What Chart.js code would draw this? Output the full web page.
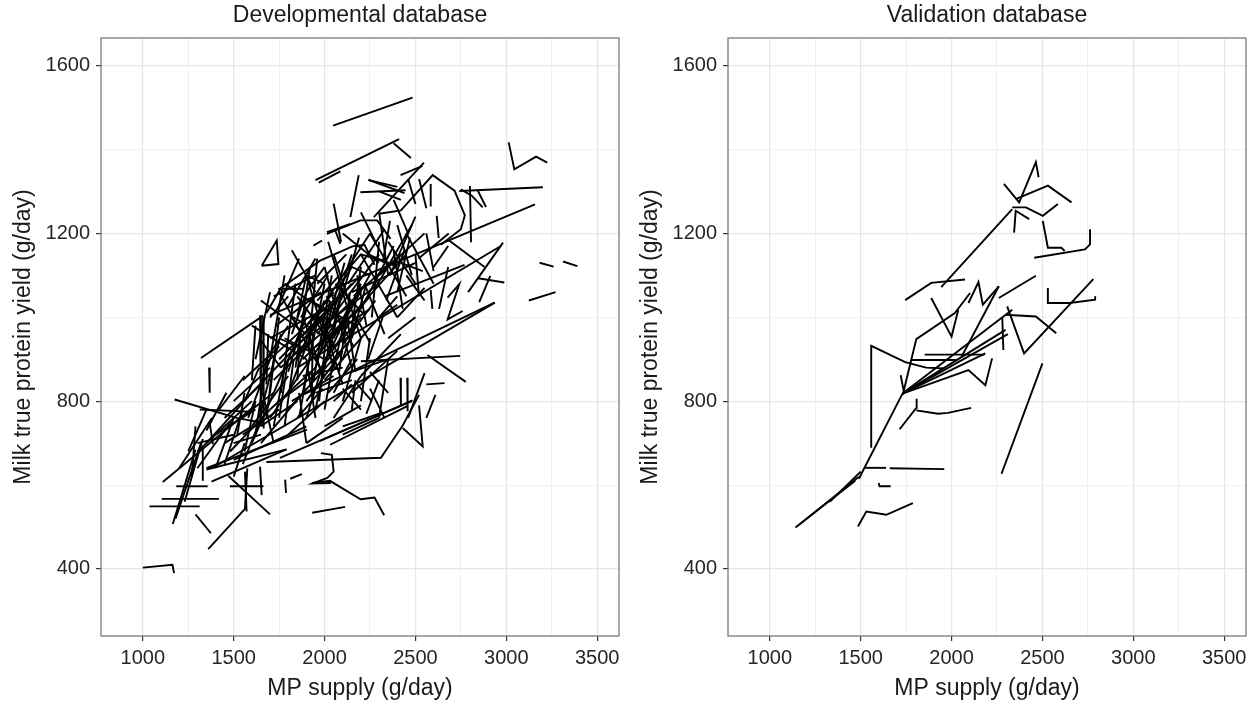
<!DOCTYPE html>
<html>
<head>
<meta charset="utf-8">
<script src="https://cdn.jsdelivr.net/npm/chart.js@4.4.0/dist/chart.umd.min.js"></script>
<style>
  html, body { margin: 0; padding: 0; background: #fff; }
  #wrap { position: relative; width: 1254px; height: 704px; }
  .panel { position: absolute; top: 0; width: 627px; height: 704px; }
</style>
</head>
<body>
<div id="wrap">
  <div class="panel" style="left:0"><canvas id="devChart" width="627" height="704"></canvas></div>
  <div class="panel" style="left:627px"><canvas id="valChart" width="627" height="704"></canvas></div>
</div>
<script>
// axis setup
const xTicks = [1000, 1500, 2000, 2500, 3000, 3500];
const yTicks = [400, 800, 1200, 1600];
const xRange = [770, 3620];
const yRange = [240, 1666];

const panelTitles = ['Developmental database', 'Validation database'];
const xTitle = 'MP supply (g/day)';
const yTitle = 'Milk true protein yield (g/day)';

// each study = flat list x1,y1,x2,y2,... (MP supply, protein yield)
// --- developmental database ---
const devOutliers = [
  [1000,403, 1163,410, 1172,390],
  [2047,1457, 2484,1524],
  [1950,1327, 2410,1425],
  [2380,1415, 2475,1380],
  [1968,1321, 2087,1348],
  [3013,1417, 3044,1353, 3164,1383, 3225,1369],
  [3183,1130, 3260,1121],
  [3312,1133, 3391,1122],
  [3124,1040, 3271,1060],
  [1654,1123, 1737,1183, 1746,1127, 1654,1123],
  [1939,1171, 1986,1183],
  [1365,880, 1368,820],
  [1932,534, 2113,548]
];

const devUpper = [
  [2741,1301, 3201,1310],
  [2800,1313, 2806,1179],
  [2842,1303, 2888,1263],
  [2750,1305, 2810,1290, 2870,1262],
  [2300,1247, 2420,1255, 2595,1339, 2715,1302, 2772,1243, 2750,1210, 2640,1173],
  [2790,1060, 2982,1178],
  [2845,1093, 2989,1083],
  [2912,1099, 2851,1036],
  [2680,1185, 2880,1120],
  [2677,1047, 2741,1079, 2677,995, 2760,1015],
  [2584,1065, 2593,1020],
  [2680,1120, 2630,1020],
  [2050,1271, 2091,1179],
  [2013,1203, 2142,1223],
  [2059,1207, 2087,1175],
  [2188,1339, 2142,1239],
  [2197,1298, 2446,1303],
  [2271,1239, 2547,1369],
  [2243,1327, 2400,1311],
  [2013,1199, 2197,1231, 2290,1231, 2363,1187],
  [2241,1328, 2440,1296],
  [2418,1339, 2539,1361],
  [2584,1318, 2584,1264],
  [2617,1242, 2628,1189],
  [2517,1140, 2683,1200],
  [2200,1250, 2280,1180],
  [2380,1280, 2460,1200],
  [2460,1330, 2500,1270],
  [2520,1330, 2560,1260],
  [2300,1300, 2420,1280],
  [2560,1200, 2600,1110],
  [2600,1120, 2680,1170],
  [1745,1068, 1885,1068],
  [1680,1010, 1760,1070, 1976,1135, 2153,1169, 2220,1173, 2275,1125]
];

const devLong = [
  [1320,903, 1663,1004],
  [1700,1005, 3158,1269],
  [1850,880, 2970,1170],
  [1380,640, 2937,1035],
  [1880,815, 2935,1035],
  [2200,895, 2746,908],
  [2566,910, 2777,846],
  [2330,1050, 2770,1125],
  [1110,607, 1620,790],
  [1755,665, 2480,800],
  [1175,804, 1516,760, 1663,748],
  [1313,780, 1580,775],
  [1680,655, 2310,665, 2430,742, 2520,815]
];

const devCore = [
  [1600,820, 2000,1000], [1650,880, 2100,1060], [1700,760, 2050,980],
  [1750,900, 2200,1100], [1800,780, 2150,950], [1820,1000, 2000,860],
  [1850,1050, 2100,900], [1900,1100, 2050,880], [1880,820, 2000,1080],
  [1950,780, 2080,1040], [2000,1120, 2150,880], [2050,1150, 2200,950],
  [1900,950, 2300,1080], [1700,950, 2000,1020], [1600,980, 1900,900],
  [1650,1040, 1900,960], [1720,1050, 1950,1100], [1780,1080, 2050,1000],
  [1950,1000, 2250,1200], [2000,850, 2400,1050], [2100,980, 2450,1150],
  [2150,1060, 2500,1130], [2200,1150, 2400,1000], [2250,1200, 2450,1050],
  [2300,1100, 2550,1200], [2350,1180, 2500,1080], [2400,1220, 2480,1100],
  [2300,1250, 2350,1100], [2450,1200, 2600,1080], [2100,1200, 2300,1130],
  [2020,1180, 2120,1030], [1980,940, 2160,1010, 2250,940],
  [1800,870, 1900,1020], [1700,820, 1750,1000], [1750,760, 1800,900],
  [1850,760, 1990,830], [1900,900, 1950,760], [2050,820, 2150,900],
  [2100,800, 2200,950], [2150,870, 2350,900], [2200,800, 2250,950],
  [2250,870, 2350,820], [2300,760, 2350,900], [1550,850, 1750,930],
  [1500,800, 1700,880], [1450,760, 1650,840], [1400,720, 1620,780],
  [1350,700, 1600,820], [1600,700, 1700,800], [1550,650, 1650,760],
  [1500,700, 1650,720], [1700,700, 1900,740], [1650,740, 1850,800],
  [1800,720, 2000,800], [1900,700, 2100,760], [2000,740, 2200,790],
  [2100,740, 2300,770], [1950,880, 2150,1150], [2000,900, 2100,950, 2200,1000],
  [1850,1000, 1900,1100, 2000,1080], [2050,1050, 2150,1120, 2250,1100],
  [1700,1000, 1800,1050], [1750,950, 1850,930], [2100,1100, 2200,1150, 2350,1130],
  [2300,1000, 2400,1030], [2350,950, 2500,1000], [2400,1000, 2550,1070],
  [2450,1100, 2550,1040], [2500,1150, 2520,1050], [2150,1000, 2250,1050],
  [1880,900, 2020,960], [1920,850, 2060,920], [1960,960, 2060,1010],
  [2060,930, 2140,990], [1840,940, 1980,1000], [1760,880, 1900,940],
  [1960,1040, 2080,1100], [2080,1010, 2200,1060], [1900,1060, 2000,1120],
  [1680,900, 1800,980], [1740,1020, 1860,1140], [1820,1160, 1950,1060],
  [1645,1005, 1650,740], [1662,1000, 1665,735]
];

const devDense = [
  [1620,900, 1700,1060], [1640,760, 1760,960], [1660,820, 1720,700],
  [1680,780, 1900,1000], [1700,900, 1780,1100], [1720,850, 1950,950],
  [1730,980, 1980,1060], [1760,820, 1840,1080], [1780,950, 2000,900],
  [1790,1020, 1950,1140], [1800,900, 2100,1000], [1810,830, 1960,1000],
  [1830,1000, 2050,940], [1840,880, 1920,1120], [1860,760, 1940,960],
  [1870,940, 2150,1080], [1890,990, 1990,860], [1900,800, 2100,920],
  [1910,920, 1960,1140], [1920,1040, 2180,980], [1940,850, 2040,1100],
  [1950,930, 2250,1020], [1960,1080, 2120,1150], [1970,800, 2020,1000],
  [1980,1000, 2100,840], [1990,880, 2200,1080], [2000,960, 2110,1130],
  [2010,1050, 2160,930], [2020,820, 2180,900], [2030,920, 2100,1070],
  [2040,1000, 2300,1150], [2050,880, 2120,1010], [2060,1080, 2210,1010],
  [2070,960, 2260,1110], [2080,870, 2140,1060], [2090,1040, 2190,1190],
  [2110,940, 2280,1040], [2120,1010, 2170,870], [2130,1080, 2330,1210],
  [2140,950, 2200,1120], [2160,1050, 2420,1150], [2180,1100, 2230,980],
  [2200,1020, 2380,1170], [2220,1080, 2330,960], [2240,1150, 2400,1120],
  [2260,1000, 2300,1180], [2280,1070, 2480,1220], [2320,1130, 2360,1230],
  [2340,1040, 2440,1160], [2360,1100, 2500,1240], [2380,1160, 2430,1020],
  [2400,1060, 2470,1190], [2420,1130, 2540,1110], [1750,1060, 1850,980],
  [1640,950, 1760,880], [1580,760, 1700,900], [1560,800, 1640,880],
  [1600,850, 1620,980], [1680,840, 1690,960], [1850,850, 1870,980],
  [1930,820, 1935,960], [2240,900, 2320,1000], [2200,860, 2420,960],
  [2150,820, 2400,920],
  [1600,740, 1800,860], [1620,720, 1680,900], [1650,700, 1900,830],
  [1680,760, 1720,900], [1700,780, 1950,880], [1720,740, 1780,880],
  [1750,800, 2000,880], [1780,740, 1830,900], [1820,800, 2050,860],
  [1860,820, 1900,700], [1880,860, 2100,880], [1900,760, 2000,900],
  [1950,820, 2150,850], [2000,780, 2050,900], [2050,760, 2200,860],
  [1550,720, 1750,780], [1480,740, 1720,820], [1560,680, 1620,800],
  [1500,660, 1700,700], [1450,650, 1550,780], [1850,900, 2000,1040],
  [1900,980, 2050,1060], [1950,900, 2080,980], [2000,1000, 2080,960],
  [1980,920, 2030,1040], [2050,950, 2150,1040], [1870,1000, 2020,1100],
  [1820,960, 1900,1060], [2100,900, 2180,1000], [2150,950, 2230,1080]
];

const devLower = [
  [1037,549, 1313,549],
  [1104,567, 1419,567],
  [1184,597, 1357,597],
  [1479,597, 1664,597],
  [1290,530, 1375,485],
  [1360,447, 1562,543, 1575,640],
  [1470,622, 1700,530],
  [1930,605, 2030,610, 2198,566, 2275,570, 2328,528],
  [1980,676, 2040,672, 2050,632, 2015,617, 1935,604, 2035,605],
  [1783,613, 1788,581],
  [1811,615, 1875,626],
  [1165,507, 1290,684], [1180,520, 1320,700], [1230,560, 1330,710],
  [1270,620, 1290,740], [1200,640, 1380,760], [1300,640, 1500,760],
  [1350,637, 1792,685], [1378,608, 1790,685], [1350,640, 1903,732],
  [1300,680, 1600,800], [1330,610, 1330,690], [1562,632, 1571,537],
  [1645,644, 1654,576], [1369,745, 1386,697], [1500,620, 1560,700],
  [2031,696, 2455,788], [1976,705, 2484,802], [2100,720, 2300,760],
  [2430,736, 2540,692, 2520,790], [2560,760, 2610,815], [2460,760, 2550,867],
  [2560,840, 2660,843], [2455,856, 2457,776], [2418,856, 2420,791],
  [2050,800, 2150,840], [2100,830, 2200,780], [2180,840, 2260,800],
  [2150,780, 2170,850], [2230,770, 2300,850], [2250,830, 2330,760],
  [1400,640, 1500,760], [1450,700, 1600,740], [1480,680, 1700,780],
  [1520,720, 1560,820], [1420,780, 1560,860], [1350,730, 1460,820],
  [1250,680, 1350,780], [1300,700, 1500,720]
];

// --- validation database ---
const valLower = [
  [1141,499, 1470,610], [1160,505, 1490,620], [1330,560, 1500,632],
  [1490,615, 1730,818],
  [1525,641, 1640,641], [1660,640, 1960,638],
  [1599,605, 1604,597, 1665,597],
  [1485,501, 1531,537, 1641,529, 1787,557],
  [1714,733, 1806,784, 1808,806],
  [1806,778, 1925,770, 1980,772, 2108,784],
  [2275,627, 2500,890]
];

const valMiddle = [
  [1558,689, 1558,932, 1745,893, 1860,880, 1960,878],
  [1852,911, 2181,911], [1778,898, 2035,898],
  [1730,818, 2310,960], [1730,818, 2334,1018], [1730,818, 2297,970],
  [1730,818, 2186,914], [1730,818, 2093,874, 2186,838, 2223,902],
  [1732,816, 1806,948, 2018,1010, 2102,1058],
  [1720,862, 1736,826],
  [1888,1046, 2000,954, 2037,1018],
  [2055,906, 2260,1074],
  [2093,1034, 2148,1084, 2172,1030, 2260,1074],
  [2260,1046, 2464,1099],
  [2306,1026, 2399,914, 2780,1091],
  [2297,1006, 2464,1002, 2576,962],
  [2530,1070, 2530,1034, 2650,1034, 2790,1042, 2790,1050],
  [2279,1000, 2285,922]
];

const valUpper = [
  [1745,1041, 1888,1082, 2074,1090],
  [1943,1072, 2334,1258],
  [2288,1318, 2372,1274, 2464,1370, 2479,1334],
  [2353,1282, 2530,1314, 2660,1274],
  [2334,1262, 2409,1262, 2502,1242, 2585,1270],
  [2344,1202, 2353,1254, 2427,1234],
  [2502,1230, 2530,1166, 2604,1166, 2622,1158],
  [2455,1142, 2734,1162, 2762,1174, 2762,1210]
];

const devStudies = [].concat(devOutliers, devUpper, devLong, devCore, devDense, devLower);
const valStudies = [].concat(valLower, valMiddle, valUpper);

const FONT = '"Liberation Sans", Arial, Helvetica, sans-serif';

function toPoints(flat) {
  const pts = [];
  for (let i = 0; i < flat.length; i += 2) pts.push({ x: flat[i], y: flat[i + 1] });
  return pts;
}

function gridValues(major) {
  // major breaks plus the ggplot-style minor breaks half way between
  const out = [];
  const step = major[1] - major[0];
  for (let v = major[0] - step / 2; v <= major[major.length - 1] + step / 2; v += step / 2) out.push(v);
  return out;
}

const framePlugin = {
  id: 'frame',
  afterDatasetsDraw(chart) {
    const { ctx, chartArea: a } = chart;
    ctx.save();
    ctx.strokeStyle = '#7a7a7a';
    ctx.lineWidth = 1.3;
    ctx.strokeRect(a.left, a.top, a.right - a.left, a.bottom - a.top);
    ctx.restore();
  },
  afterDraw(chart, args, opts) {
    const { ctx, chartArea: a } = chart;
    ctx.save();
    ctx.fillStyle = '#1a1a1a';
    ctx.textAlign = 'center';
    ctx.textBaseline = 'middle';
    ctx.font = '23px ' + FONT;
    ctx.fillText(opts.title, (a.left + a.right) / 2, 16);
    ctx.fillText(xTitle, (a.left + a.right) / 2, 689);
    ctx.translate(24, (a.top + a.bottom) / 2);
    ctx.rotate(-Math.PI / 2);
    ctx.fillText(yTitle, 0, 0);
    ctx.restore();
  }
};

function makeChart(id, title, studies) {
  const datasets = studies.map(s => ({
    data: toPoints(s),
    showLine: true,
    borderColor: '#000',
    borderWidth: 1.9,
    pointRadius: 0,
    fill: false,
    tension: 0
  }));
  const isMajorX = v => xTicks.includes(v);
  const isMajorY = v => yTicks.includes(v);
  return new Chart(document.getElementById(id), {
    type: 'scatter',
    data: { datasets },
    options: {
      responsive: false,
      animation: false,
      events: [],
      layout: { padding: { top: 38, right: 8, left: 0, bottom: 0 } },
      plugins: {
        legend: { display: false },
        tooltip: { enabled: false },
        frame: { title }
      },
      scales: {
        x: {
          type: 'linear',
          min: xRange[0],
          max: xRange[1],
          afterBuildTicks: s => { s.ticks = gridValues(xTicks).filter(v => v > xRange[0] && v < xRange[1]).map(v => ({ value: v })); },
          afterFit: s => { s.height = 68; },
          border: { display: false },
          grid: {
            color: c => isMajorX(c.tick.value) ? '#e6e6e6' : '#f0f0f0',
            lineWidth: c => isMajorX(c.tick.value) ? 1.2 : 1,
            tickLength: 5,
            tickColor: c => isMajorX(c.tick.value) ? '#333' : 'rgba(0,0,0,0)'
          },
          ticks: {
            autoSkip: false,
            maxRotation: 0,
            padding: 5,
            color: '#262626',
            font: { family: FONT, size: 20 },
            callback: v => isMajorX(v) ? String(v) : ''
          }
        },
        y: {
          type: 'linear',
          min: yRange[0],
          max: yRange[1],
          afterBuildTicks: s => { s.ticks = gridValues(yTicks).filter(v => v > yRange[0] && v < yRange[1]).map(v => ({ value: v })); },
          afterFit: s => { s.width = 101; },
          border: { display: false },
          grid: {
            color: c => isMajorY(c.tick.value) ? '#e6e6e6' : '#f0f0f0',
            lineWidth: c => isMajorY(c.tick.value) ? 1.2 : 1,
            tickLength: 5,
            tickColor: c => isMajorY(c.tick.value) ? '#333' : 'rgba(0,0,0,0)'
          },
          ticks: {
            autoSkip: false,
            padding: 6,
            color: '#262626',
            font: { family: FONT, size: 20 },
            callback: v => isMajorY(v) ? String(v) : ''
          }
        }
      }
    },
    plugins: [framePlugin]
  });
}

makeChart('devChart', panelTitles[0], devStudies);
makeChart('valChart', panelTitles[1], valStudies);
</script>
</body>
</html>
